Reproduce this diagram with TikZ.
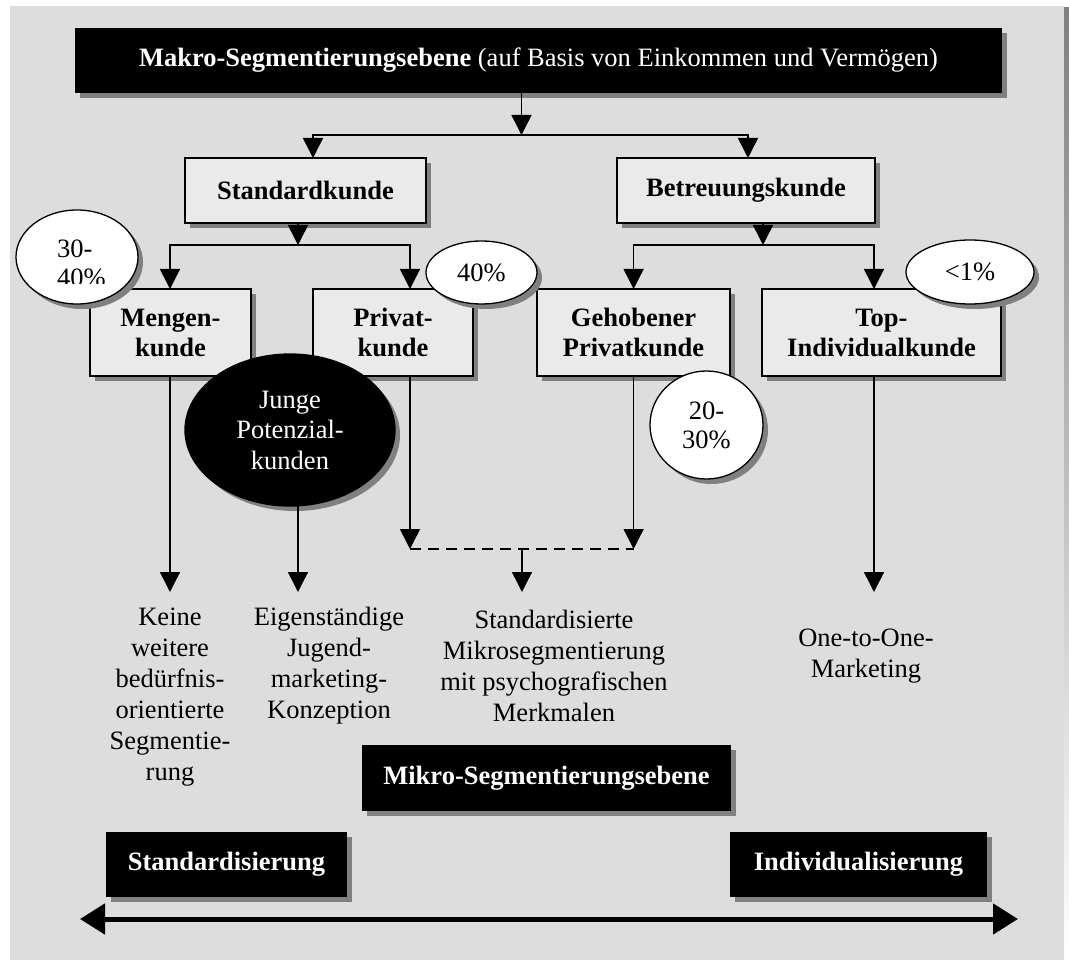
\documentclass[tikz,border=0pt]{standalone}
\usepackage{fontspec}
\setmainfont{Liberation Serif}
\usetikzlibrary{shapes.geometric,arrows.meta,shadows}

\definecolor{panel}{HTML}{DDDDDD}
\definecolor{boxfill}{HTML}{EAEAEA}
\definecolor{shade}{HTML}{808080}

\begin{document}
\begin{tikzpicture}[x=1pt,y=-1pt,
  every node/.style={inner sep=0pt,outer sep=0pt,align=center,
    font=\fontsize{26.5}{31}\selectfont},
  shadowed/.style={general shadow={fill=shade,shadow xshift=5pt,shadow yshift=-5pt}},
  darkbox/.style={rectangle,fill=black,text=white,shadowed},
  lightbox/.style={rectangle,draw=black,line width=1.5pt,fill=boxfill,
    font=\fontsize{26.5}{30}\selectfont\bfseries,shadowed},
  share/.style={ellipse,draw=black,line width=1.3pt,fill=white,shadowed,
    font=\fontsize{26.5}{29}\selectfont},
  youth/.style={ellipse,draw=black,line width=1.3pt,fill=black,text=white,shadowed,
    font=\fontsize{26.5}{30.5}\selectfont},
  note/.style={text=black},
  link/.style={line width=1.5pt},
  arr/.style={link,-{Triangle[length=20pt,width=20pt]}},
  bigarr/.style={line width=5pt,
    {Triangle[length=25pt,width=30pt]}-{Triangle[length=25pt,width=30pt]}},
]
\useasboundingbox (0,0) rectangle (1069,960);

% panel behind the chart
\fill[white] (0,0) rectangle (1069,960);
\fill[panel] (10,6) rectangle (1064,960);
\fill[shade] (1064,8) rectangle (1069,960);

% macro level
\node[darkbox,minimum width=927pt,minimum height=65pt] (makro) at (538.5,60.5)
  {\textbf{Makro-Segmentierungsebene} (auf Basis von Einkommen und Vermögen)};

\node[lightbox,minimum width=241pt,minimum height=65pt] (std) at (305.5,190.5) {Standardkunde};
\node[lightbox,minimum width=258pt,minimum height=65pt] (betr) at (746,190.5) {Betreuungskunde};

\node[lightbox,minimum width=161pt,minimum height=87pt] (mengen) at (170.5,332.5) {Mengen-\\kunde};
\node[lightbox,minimum width=160pt,minimum height=87pt] (privat) at (393,332.5) {Privat-\\kunde};
\node[lightbox,minimum width=193pt,minimum height=87pt] (gehob) at (633.5,332.5) {Gehobener\\Privatkunde};
\node[lightbox,minimum width=239pt,minimum height=87pt] (topind) at (881.5,332.5) {Top-\\Individualkunde};

% shares of the customer base
\node[share,minimum width=122pt,minimum height=94pt] (p3040) at (77,257) {};
\begin{scope}
  \clip (12,200) rectangle (140,284);
  \node[align=left,anchor=west,font=\fontsize{26.5}{29}\selectfont] (p3040t) at (57,263.5) {30-\\40\%};
\end{scope}
\node[share,minimum width=111pt,minimum height=63pt] (p40) at (481.5,272.5) {40\%};
\node[share,minimum width=128pt,minimum height=64pt] (p1) at (970,272) {<1\%};
\node[share,minimum width=113pt,minimum height=108pt] (p2030) at (706.5,425) {20-\\30\%};

\node[youth,minimum width=210pt,minimum height=152pt] (junge) at (290,430) {Junge\\Potenzial-\\kunden};

% micro level outcomes
\node[note] (keine) at (170,697) {Keine\\weitere\\bedürfnis-\\orientierte\\Segmentie-\\rung};
\node[note] (eigen) at (329,666) {Eigenständige\\Jugend-\\marketing-\\Konzeption};
\node[note] (stdm) at (554,666) {Standardisierte\\Mikrosegmentierung\\mit psychografischen\\Merkmalen};
\node[note] (one) at (866,656) {One-to-One-\\Marketing};

\node[darkbox,minimum width=369pt,minimum height=66pt] (mikro) at (546.5,778) {\textbf{Mikro-Segmentierungsebene}};
\node[darkbox,minimum width=241pt,minimum height=65pt] (stdz) at (226.5,864.5) {\textbf{Standardisierung}};
\node[darkbox,minimum width=257pt,minimum height=65pt] (indiv) at (858.5,864.5) {\textbf{Individualisierung}};

% first split
\coordinate (j0) at (521.5,135);
\coordinate (j0l) at (313,135);
\coordinate (j0r) at (748,135);
\draw[arr] (j0 |- makro.south) -- (j0);
\draw[arr] (j0) -- (j0l) -- (j0l |- std.north);
\draw[arr] (j0) -- (j0r) -- (j0r |- betr.north);

% second split, standard customers
\coordinate (j1) at (298,245);
\coordinate (j1l) at (170,245);
\coordinate (j1r) at (410,245);
\draw[arr] (j1 |- std.south) -- (j1);
\draw[arr] (j1) -- (j1l) -- (j1l |- mengen.north);
\draw[arr] (j1) -- (j1r) -- (j1r |- privat.north);

% second split, advised customers
\coordinate (j2) at (763,245);
\coordinate (j2l) at (633.6,245);
\coordinate (j2r) at (874,245);
\draw[arr] (j2 |- betr.south) -- (j2);
\draw[arr] (j2) -- (j2l) -- (j2l |- gehob.north);
\draw[arr] (j2) -- (j2r) -- (j2r |- topind.north);

% down to the micro level
\coordinate (t0) at (170,592);
\coordinate (t1) at (298,592);
\coordinate (t2) at (522,592);
\coordinate (t3) at (874,592);
\coordinate (m0) at (410,549);
\coordinate (m1) at (633.6,549);
\coordinate (m2) at (522,549);
\draw[arr] (mengen.south -| t0) -- (t0);
\draw[arr] (junge.south -| t1) -- (t1);
\draw[arr] (privat.south -| m0) -- (m0);
\draw[arr] (gehob.south -| m1) -- (m1);
\draw[link,dash pattern=on 11pt off 7pt] (m0) -- (m1);
\draw[arr] (m2) -- (t2);
\draw[arr] (topind.south -| t3) -- (t3);

% scale from standardisation to individualisation
\coordinate (axl) at (80,919);
\coordinate (axr) at (1018,919);
\draw[bigarr] (axl) -- (axr);
\end{tikzpicture}
\end{document}
